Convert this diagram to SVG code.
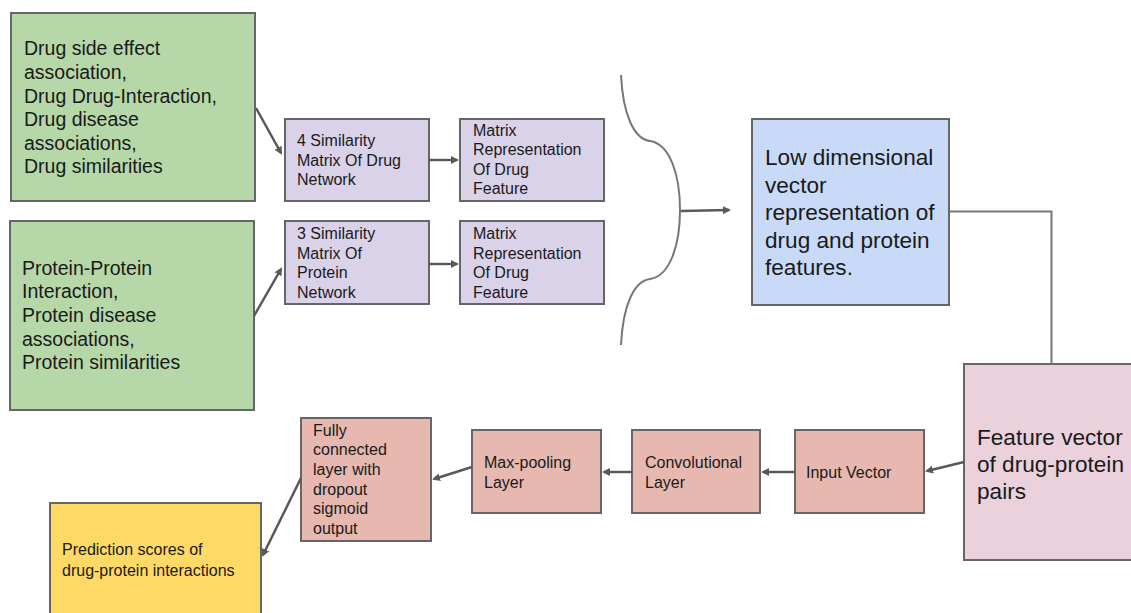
<svg xmlns="http://www.w3.org/2000/svg" width="1131" height="613" viewBox="0 0 1131 613">
<style>
text{font-family:"Liberation Sans",Arial,sans-serif;fill:#1a1a1a}
.box{stroke:#666;stroke-width:2}
.g{fill:#b6d7a8}.p{fill:#d9d2e9}.b{fill:#c9daf8}.k{fill:#ead1dc}.r{fill:#e6b8af}.y{fill:#ffd966}
.t19{font-size:19.5px}.t16{font-size:16px}.t22{font-size:22.6px}
.c{fill:none;stroke:#595959;stroke-width:2.5}
.thin{fill:none;stroke:#777;stroke-width:2}
</style>
<defs>
<marker id="ah" markerWidth="8" markerHeight="8" refX="6" refY="4" orient="auto" markerUnits="userSpaceOnUse">
<path d="M0,0 L8,4 L0,8 z" fill="#595959"/>
</marker>
</defs>
<rect width="1131" height="613" fill="#fff"/>
<g id="n-drug-src"><rect class="box g" x="11" y="13" width="244" height="188"/>
<text class="t19" x="24"><tspan x="24" y="55">Drug side effect</tspan><tspan x="24" y="79">association,</tspan><tspan x="24" y="103">Drug Drug-Interaction,</tspan><tspan x="24" y="126">Drug disease</tspan><tspan x="24" y="150">associations,</tspan><tspan x="24" y="173">Drug similarities</tspan></text></g>
<g id="n-prot-src"><rect class="box g" x="10" y="221" width="244" height="189"/>
<text class="t19"><tspan x="22" y="275">Protein-Protein</tspan><tspan x="22" y="298">Interaction,</tspan><tspan x="22" y="322">Protein disease</tspan><tspan x="22" y="346">associations,</tspan><tspan x="22" y="369">Protein similarities</tspan></text></g>
<g id="n-sim-drug"><rect class="box p" x="285" y="119" width="144" height="82"/>
<text class="t16"><tspan x="297" y="146">4 Similarity</tspan><tspan x="297" y="165.5">Matrix Of Drug</tspan><tspan x="297" y="185">Network</tspan></text></g>
<g id="n-mat-drug"><rect class="box p" x="460" y="119" width="144" height="82"/>
<text class="t16"><tspan x="473" y="135.5">Matrix</tspan><tspan x="473" y="155">Representation</tspan><tspan x="473" y="174.5">Of Drug</tspan><tspan x="473" y="194">Feature</tspan></text></g>
<g id="n-sim-prot"><rect class="box p" x="285" y="221" width="144" height="83"/>
<text class="t16"><tspan x="297" y="239"> 3 Similarity</tspan><tspan x="297" y="258.5">Matrix Of</tspan><tspan x="297" y="278">Protein</tspan><tspan x="297" y="297.5">Network</tspan></text></g>
<g id="n-mat-prot"><rect class="box p" x="460" y="221" width="144" height="83"/>
<text class="t16"><tspan x="473" y="239">Matrix</tspan><tspan x="473" y="258.5">Representation</tspan><tspan x="473" y="278">Of Drug</tspan><tspan x="473" y="297.5">Feature</tspan></text></g>
<g id="n-brace"><path class="thin" d="M621,75 C623,115 634,139 650,141 C670,144 680,175 680,210 C680,245 670,276 650,279 C634,281 623,305 621,345"/></g>
<g id="n-lowdim"><rect class="box b" x="752" y="119" width="197" height="186"/>
<text class="t22"><tspan x="765" y="165">Low dimensional</tspan><tspan x="765" y="192.5">vector</tspan><tspan x="765" y="220">representation of</tspan><tspan x="765" y="247.5">drug and protein</tspan><tspan x="765" y="275">features.</tspan></text></g>
<g id="n-feature"><rect class="box k" x="964" y="364" width="180" height="196"/>
<text class="t22"><tspan x="977" y="445">Feature vector</tspan><tspan x="977" y="472">of drug-protein</tspan><tspan x="977" y="499">pairs</tspan></text></g>
<g id="n-input"><rect class="box r" x="795" y="430" width="129" height="83"/>
<text class="t16"><tspan x="806" y="478">Input Vector</tspan></text></g>
<g id="n-conv"><rect class="box r" x="632" y="430" width="128" height="83"/>
<text class="t16"><tspan x="645" y="468">Convolutional</tspan><tspan x="645" y="488">Layer</tspan></text></g>
<g id="n-pool"><rect class="box r" x="472" y="430" width="129" height="83"/>
<text class="t16"><tspan x="484" y="468">Max-pooling</tspan><tspan x="484" y="488">Layer</tspan></text></g>
<g id="n-fc"><rect class="box r" x="301" y="418" width="130" height="123"/>
<text class="t16"><tspan x="313" y="435.5">Fully</tspan><tspan x="313" y="455.2">connected</tspan><tspan x="313" y="474.9">layer with</tspan><tspan x="313" y="494.6">dropout</tspan><tspan x="313" y="514.3">sigmoid</tspan><tspan x="313" y="534">output</tspan></text></g>
<g id="n-pred"><rect class="box y" x="50" y="503" width="211" height="120"/>
<text class="t16"><tspan x="62" y="555">Prediction scores of</tspan><tspan x="62" y="576">drug-protein interactions</tspan></text></g>
<g id="connectors">
<line class="c" x1="256" y1="108" x2="281" y2="153" marker-end="url(#ah)"/>
<line class="c" x1="429" y1="160" x2="457" y2="160" marker-end="url(#ah)"/>
<line class="c" x1="254" y1="316" x2="281" y2="269" marker-end="url(#ah)"/>
<line class="c" x1="429" y1="264" x2="457" y2="264" marker-end="url(#ah)"/>
<line class="c" x1="681" y1="211" x2="729" y2="210" marker-end="url(#ah)"/>
<polyline class="thin" points="949,211.5 1051.5,211.5 1051.5,364"/>
<line class="c" x1="964" y1="462" x2="927" y2="471" marker-end="url(#ah)"/>
<line class="c" x1="795" y1="472" x2="763" y2="472" marker-end="url(#ah)"/>
<line class="c" x1="632" y1="472" x2="604" y2="472" marker-end="url(#ah)"/>
<line class="c" x1="472" y1="467" x2="434" y2="479" marker-end="url(#ah)"/>
<line class="c" x1="301" y1="478" x2="263" y2="555" marker-end="url(#ah)"/>
</g>
</svg>
